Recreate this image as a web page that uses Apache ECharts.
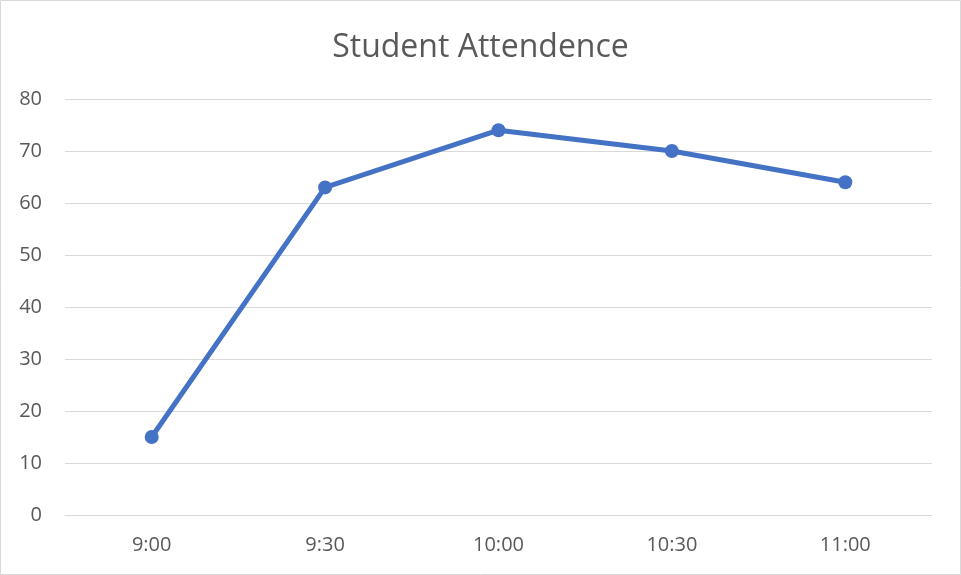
<!DOCTYPE html>
<html>
<head>
<meta charset="utf-8">
<script src="https://cdn.jsdelivr.net/npm/echarts@6/dist/echarts.min.js"></script>
<style>
html,body{margin:0;padding:0;background:#fff;}
#chart{width:961px;height:575px;}
</style>
</head>
<body>
<div id="chart"></div>
<script>
var categories = ['9:00', '9:30', '10:00', '10:30', '11:00'];
var attendance = [15, 63, 74, 70, 64];
var titleText = 'Student Attendence';

var chart = echarts.init(document.getElementById('chart'));
chart.setOption({
  animation: false,
  backgroundColor: '#ffffff',
  title: {
    text: titleText,
    left: 'center',
    top: 27,
    textStyle: { fontFamily: 'Open Sans', fontSize: 32, fontWeight: 'normal', color: '#595959' }
  },
  graphic: [{
    type: 'rect',
    shape: { x: 0.5, y: 0.5, width: 960, height: 574 },
    style: { fill: 'none', stroke: '#d9d9d9', lineWidth: 1 },
    silent: true
  }],
  grid: { left: 65, right: 29, top: 99, bottom: 60, containLabel: false },
  xAxis: {
    type: 'category',
    data: categories,
    boundaryGap: true,
    axisLine: { show: true, lineStyle: { color: '#d9d9d9', width: 1 } },
    axisTick: { show: false },
    axisLabel: { color: '#595959', fontSize: 20, fontFamily: 'Open Sans', margin: 20 },
    splitLine: { show: false }
  },
  yAxis: {
    type: 'value',
    min: 0,
    max: 80,
    interval: 10,
    axisLine: { show: false },
    axisTick: { show: false },
    axisLabel: { color: '#595959', fontSize: 20, fontFamily: 'Open Sans', margin: 23 },
    splitLine: { lineStyle: { color: '#d9d9d9', width: 1 } }
  },
  series: [{
    type: 'line',
    data: attendance,
    symbol: 'circle',
    symbolSize: 14,
    lineStyle: { color: '#4472C4', width: 5 },
    itemStyle: { color: '#4472C4' }
  }]
});
</script>
</body>
</html>
